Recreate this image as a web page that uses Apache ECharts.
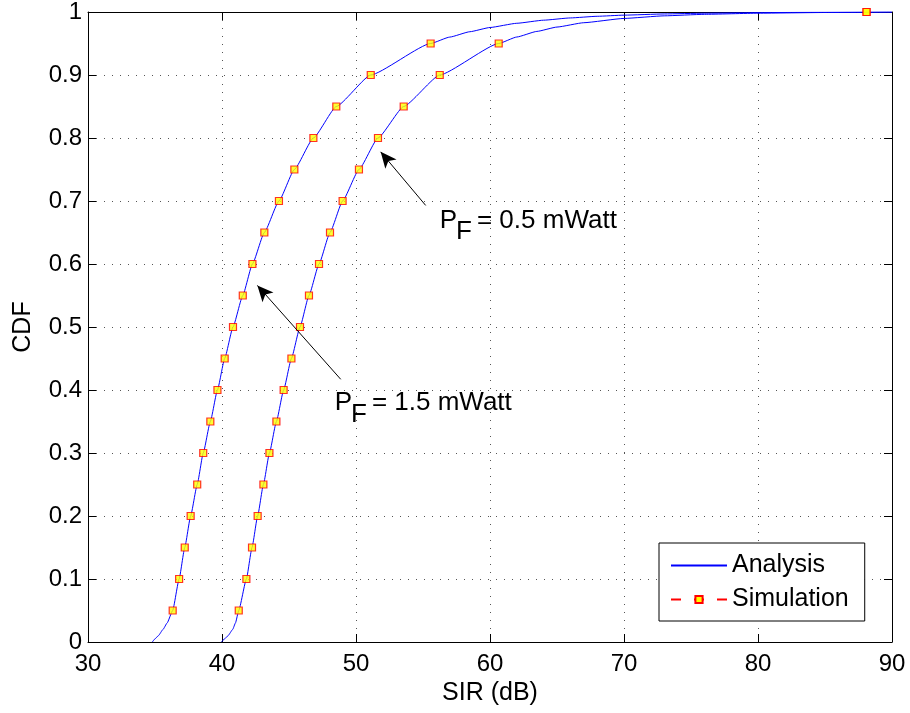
<!DOCTYPE html>
<html><head><meta charset="utf-8">
<script src="https://cdn.jsdelivr.net/npm/echarts@6/dist/echarts.min.js"></script>
<style>html,body{margin:0;padding:0;background:#fff}#c{width:910px;height:713px}</style>
</head><body><div id="c"></div><script>
// ---- data ----
const xMin = 30, xMax = 90, xStep = 10;
const yMin = 0, yMax = 1, yStep = 0.1;
const simLevels = [0.05,0.1,0.15,0.2,0.25,0.3,0.35,0.4,0.45,0.5,0.55,0.6,0.65,0.7,0.75,0.8,0.85,0.9,0.95,1];
const sim15X = [36.32,36.8,37.22,37.66,38.15,38.6,39.13,39.66,40.2,40.82,41.55,42.27,43.16,44.25,45.4,46.82,48.53,51.1,55.57,88.1];
const sim05X = [41.25,41.82,42.24,42.66,43.09,43.54,44.06,44.6,45.18,45.82,46.49,47.24,48.06,49.0,50.22,51.64,53.56,56.25,60.65,88.1];
const ana15Y = [0,0.005,0.01,0.02,0.03,0.05,0.1,0.15,0.2,0.25,0.3,0.35,0.4,0.45,0.5,0.55,0.6,0.65,0.7,0.75,0.8,0.85,0.9,0.95,0.9602,0.9687,0.9754,0.9821,0.987,0.9906,0.9932,0.995,0.9969,0.9981,0.999,0.9996,1];
const ana15X = [34.8,35.0,35.25,35.6,35.9,36.32,36.8,37.22,37.66,38.15,38.6,39.13,39.66,40.2,40.82,41.55,42.27,43.16,44.25,45.4,46.82,48.53,51.1,55.57,57.0,58.5,60.0,62.0,64.0,66.0,68.0,70.0,73.0,76.0,80.0,85.0,90.0];
const ana05Y = [0,0.005,0.01,0.02,0.03,0.05,0.1,0.15,0.2,0.25,0.3,0.35,0.4,0.45,0.5,0.55,0.6,0.65,0.7,0.75,0.8,0.85,0.9,0.95,0.9603,0.9692,0.9761,0.983,0.9898,0.9939,0.9963,0.9981,0.9992,1];
const ana05X = [39.95,40.2,40.45,40.8,41.0,41.25,41.82,42.24,42.66,43.09,43.54,44.06,44.6,45.18,45.82,46.49,47.24,48.06,49.0,50.22,51.64,53.56,56.25,60.65,62.0,63.5,65.0,67.0,70.0,73.0,76.0,80.0,85.0,90.0];
const annotations = [
  {label: '= 0.5 mWatt', text: [56.25, 0.669], from: [55.2, 0.693], to: [51.84, 0.778]},
  {label: '= 1.5 mWatt', text: [48.41, 0.3796], from: [48.86, 0.417], to: [42.64, 0.566]}
];

const FONT = 'Liberation Sans, Arial, Helvetica, sans-serif';
const pairs = (xs, ys) => xs.map((x, i) => [x, ys[i]]);

const chart = echarts.init(document.getElementById('c'), null, {renderer: 'canvas'});
const markerStyle = {color: '#ffff00', borderColor: '#ff0000', borderWidth: 1.2};
const anaLine = {color: '#0000ff', width: 1};

const option = {
  animation: false,
  backgroundColor: '#fff',
  grid: {left: 88, right: 18, top: 10, bottom: 71, containLabel: false},
  legend: {
    orient: 'vertical', left: 659, top: 543,
    padding: [10, 16, 9, 11], itemGap: 9, itemWidth: 56, itemHeight: 9,
    backgroundColor: '#fff', borderColor: '#000', borderWidth: 1, borderRadius: 0,
    textStyle: {fontSize: 25, fontFamily: FONT, color: '#000'},
    data: [
      {name: 'Analysis', itemStyle: {opacity: 0}},
      {name: 'Simulation'}
    ]
  },
  xAxis: [{
    type: 'value', min: xMin, max: xMax, interval: xStep, position: 'bottom',
    name: 'SIR (dB)', nameLocation: 'middle', nameGap: 37,
    nameTextStyle: {fontSize: 25, fontFamily: FONT, color: '#000'},
    axisLine: {show: true, onZero: false, lineStyle: {color: '#000', width: 1}},
    axisTick: {show: true, inside: true, length: 8, lineStyle: {color: '#000'}},
    axisLabel: {fontSize: 24, fontFamily: FONT, color: '#000', margin: 10},
    splitLine: {show: true, lineStyle: {color: '#555', type: [1, 7], width: 1}}
  }, {
    type: 'value', min: xMin, max: xMax, interval: xStep, position: 'top',
    axisLine: {show: true, onZero: false, lineStyle: {color: '#000', width: 1}},
    axisTick: {show: true, inside: true, length: 8, lineStyle: {color: '#000'}},
    axisLabel: {show: false}, splitLine: {show: false}
  }],
  yAxis: [{
    type: 'value', min: yMin, max: yMax, interval: yStep, position: 'left',
    name: 'CDF', nameLocation: 'middle', nameGap: 52,
    nameTextStyle: {fontSize: 25, fontFamily: FONT, color: '#000'},
    axisLine: {show: true, onZero: false, lineStyle: {color: '#000', width: 1}},
    axisTick: {show: true, inside: true, length: 8, lineStyle: {color: '#000'}},
    axisLabel: {fontSize: 24, fontFamily: FONT, color: '#000', margin: 6},
    splitLine: {show: true, lineStyle: {color: '#555', type: [1, 7], width: 1}}
  }, {
    type: 'value', min: yMin, max: yMax, interval: yStep, position: 'right',
    axisLine: {show: true, onZero: false, lineStyle: {color: '#000', width: 1}},
    axisTick: {show: true, inside: true, length: 8, lineStyle: {color: '#000'}},
    axisLabel: {show: false}, splitLine: {show: false}
  }],
  series: [
    {name: 'Analysis', type: 'line', data: pairs(ana15X, ana15Y), showSymbol: false, symbol: 'none',
     smooth: 0.15, smoothMonotone: 'x', lineStyle: anaLine, itemStyle: {color: '#0000ff'}, z: 3,
     markLine: {
       silent: true, animation: false, symbol: ['none', 'arrow'], symbolSize: [11, 16],
       label: {show: false}, lineStyle: {color: '#000', width: 1, type: 'solid'},
       itemStyle: {color: '#000'},
       data: annotations.map(a => [{coord: a.from}, {coord: a.to}])
     }},
    {name: 'Analysis', type: 'line', data: pairs(ana05X, ana05Y), showSymbol: false, symbol: 'none',
     smooth: 0.15, smoothMonotone: 'x', lineStyle: anaLine, itemStyle: {color: '#0000ff'}, z: 3},
    {name: 'Simulation', type: 'line', data: [], symbol: 'rect', symbolSize: 7,
     lineStyle: {color: '#ff0000', width: 1, type: [10, 13]}, itemStyle: markerStyle},
    {name: 'sim15', type: 'scatter', data: pairs(sim15X, simLevels), symbol: 'rect', symbolSize: 7,
     itemStyle: markerStyle, z: 4},
    {name: 'sim05', type: 'scatter', data: pairs(sim05X, simLevels), symbol: 'rect', symbolSize: 7,
     itemStyle: markerStyle, z: 4}
  ]
};
chart.setOption(option);

const gfx = [];
annotations.forEach(a => {
  const p = chart.convertToPixel({gridIndex: 0}, a.text);
  const base = {fill: '#000', fontSize: 26, fontFamily: FONT, align: 'left', verticalAlign: 'middle'};
  gfx.push({type: 'text', x: p[0], y: p[1], style: Object.assign({text: 'P'}, base), z: 10});
  gfx.push({type: 'text', x: p[0] + 16.2, y: p[1] + 11.5, style: Object.assign({text: 'F'}, base), z: 10});
  gfx.push({type: 'text', x: p[0] + 37.2, y: p[1], style: Object.assign({text: a.label}, base), z: 10});
});
chart.setOption({graphic: gfx});
</script></body></html>
